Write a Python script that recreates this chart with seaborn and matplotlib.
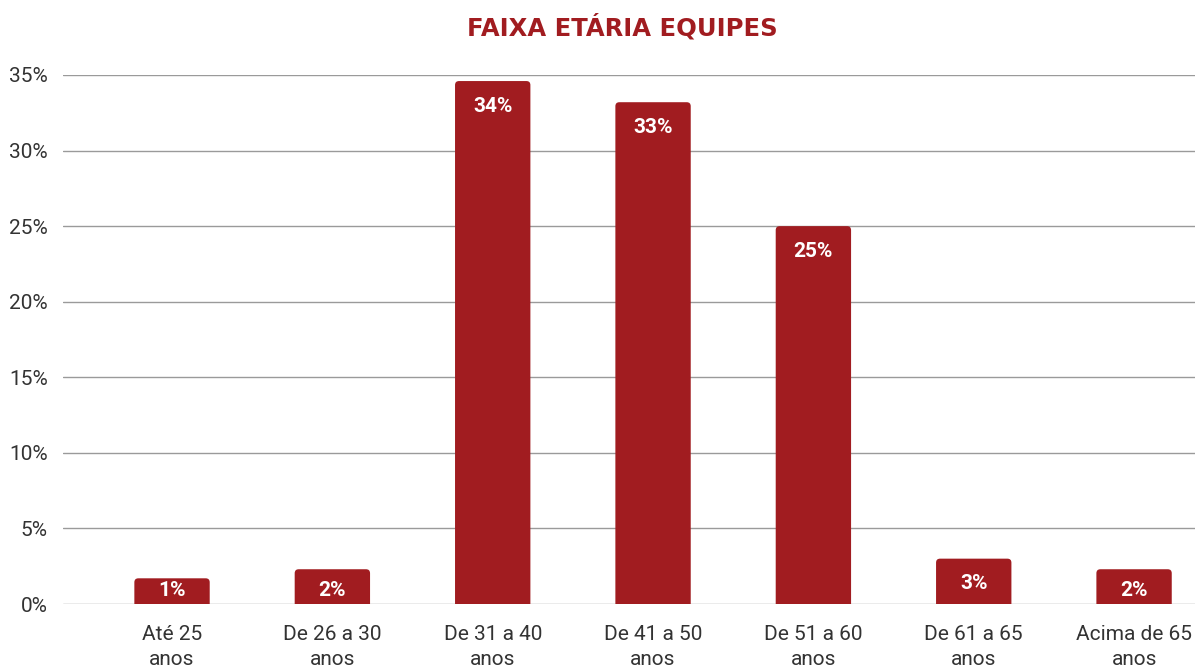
import matplotlib
matplotlib.use("Agg")
import matplotlib.pyplot as plt
import seaborn as sns
import pandas as pd
from matplotlib.patches import FancyBboxPatch

categories = ["Até 25\nanos", "De 26 a 30\nanos", "De 31 a 40\nanos", "De 41 a 50\nanos",
              "De 51 a 60\nanos", "De 61 a 65\nanos", "Acima de 65\nanos"]
values = [1.7, 2.3, 34.6, 33.2, 25.0, 3.0, 2.3]
value_labels = ["1%", "2%", "34%", "33%", "25%", "3%", "2%"]
yticks = [0, 5, 10, 15, 20, 25, 30, 35]
title = "FAIXA ETÁRIA EQUIPES"

bar_color = "#A11C20"
title_color = "#A11C20"

sns.set_theme(style="white")
plt.rcParams['font.family'] = ['Roboto', 'DejaVu Sans']

W, H = 1195, 668
fig = plt.figure(figsize=(W / 100, H / 100), dpi=100)
ax = fig.add_axes([63 / W, 64 / H, (1195 - 63) / W, (604 - 75) / H])

df = pd.DataFrame({"cat": categories, "val": values})
sns.barplot(data=df, x="cat", y="val", color=bar_color, width=0.47, ax=ax, saturation=1)

ax.set_ylim(0, 35)
ax.set_xlim(-0.68, 6.38)

# rounded tops
px_x = (1195 - 63) / (6.38 + 0.68)   # px per x unit
px_y = (604 - 75) / 35.0              # px per y unit
r_px = 4
for p in list(ax.patches):
    x0, w, h = p.get_x(), p.get_width(), p.get_height()
    p.set_visible(False)
    fb = FancyBboxPatch((x0, -1), w, h + 1,
                        boxstyle=f"round,pad=0,rounding_size={r_px / px_x}",
                        mutation_aspect=px_x / px_y,
                        facecolor=bar_color, edgecolor="none", zorder=3)
    ax.add_patch(fb)

# value labels
for i, (v, lab) in enumerate(zip(values, value_labels)):
    off_px = min(25, v * px_y - 13)
    ax.annotate(lab, xy=(i, v), xytext=(0, -off_px * 0.72), textcoords="offset points",
                ha="center", va="center", color="white", fontsize=15, fontweight="bold",
                zorder=5)

ax.set_yticks(yticks)
ax.set_yticklabels([f"{t}%" for t in yticks])
ax.yaxis.grid(True, color="#9a9a9a", linewidth=1)
ax.set_axisbelow(True)
for s in ax.spines.values():
    s.set_visible(False)
ax.tick_params(axis="both", length=0, labelsize=15, labelcolor="#333333")
ax.tick_params(axis="y", pad=11)
ax.tick_params(axis="x", pad=15)
for t in ax.get_xticklabels():
    t.set_linespacing(1.4)
ax.set_xlabel("")
ax.set_ylabel("")

fig.text(622 / W, 1 - 27 / H, title, ha="center", va="center", color=title_color,
         fontsize=17.5, fontweight="bold", family=["DejaVu Sans"])

fig.savefig("out.png", dpi=100)
